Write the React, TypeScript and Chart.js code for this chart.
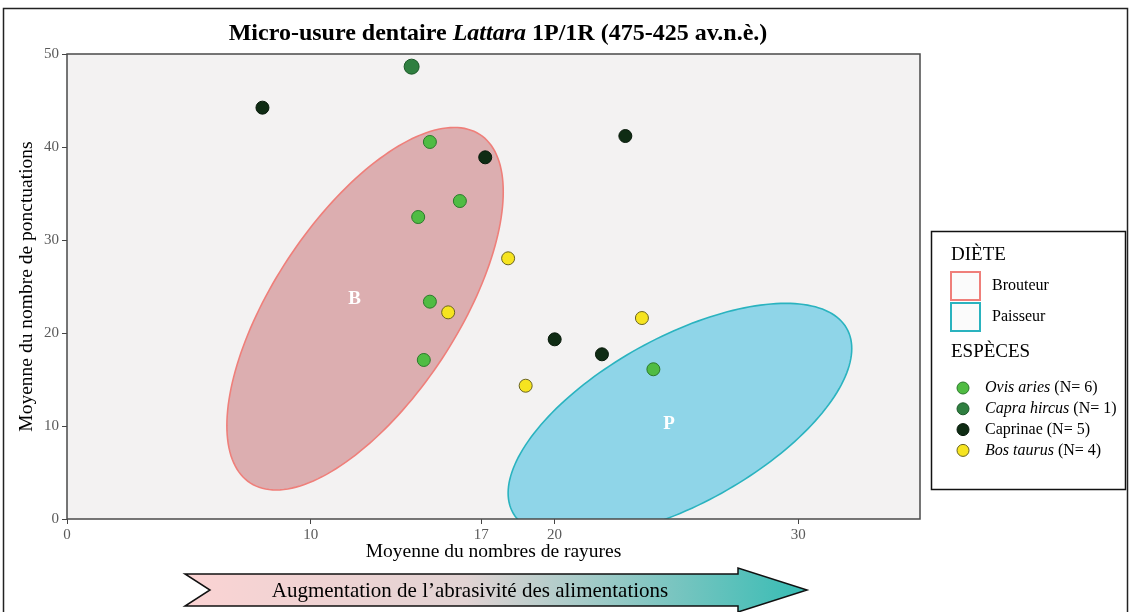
import React, { useEffect, useRef } from "react";
import { Chart, registerables } from "chart.js";

Chart.register(...registerables);

const FONT = "'Liberation Serif', 'Times New Roman', Times, serif";

// ---- data ----
const xTickValues = [0, 10, 17, 20, 30];
const yTickValues = [0, 10, 20, 30, 40, 50];

const ovisX = [14.89, 16.12, 14.41, 14.89, 14.64, 24.06];
const ovisY = [40.54, 34.19, 32.47, 23.37, 17.1, 16.1];
const capraX = [14.14];
const capraY = [48.64];
const caprinaeX = [8.02, 17.16, 22.91, 20.01, 21.95];
const caprinaeY = [44.23, 38.89, 41.18, 19.32, 17.71];
const bosX = [18.1, 15.64, 23.59, 18.82];
const bosY = [28.03, 22.22, 21.61, 14.33];

const speciesNames = ["Ovis aries", "Capra hircus", "Caprinae", "Bos taurus"];
const speciesItalic = [true, true, false, true];
const speciesN = [6, 1, 5, 4];

const dietLabels = ["B", "P"];
const dietNames = ["Brouteur", "Paisseur"];
const ellipseCX = [12.23, 25.15];
const ellipseCY = [22.61, 10.56];
const ellipseRX = [5.67, 7.05];
const ellipseRY = [19.49, 12.63];
const ellipseRho = [0.645, 0.615];
const dietLabelX = [11.8, 24.7];
const dietLabelY = [23.6, 10.2];

const titleParts = [
  { t: "Micro-usure dentaire ", italic: false },
  { t: "Lattara", italic: true },
  { t: " 1P/1R (475-425 av.n.è.)", italic: false },
];
const xTitle = "Moyenne du nombres de rayures";
const yTitle = "Moyenne du nombre de ponctuations";
const arrowText = "Augmentation de l\u2019abrasivité des alimentations";

// ---- styles ----
const speciesFill = ["#50bc43", "#2f7f40", "#0f2c14", "#f6e420"];
const speciesBorder = ["#2b7a2b", "#1d5a2a", "#081a0b", "#6a6420"];
const speciesRadius = [6.5, 7.5, 6.5, 6.5];
const dietFill = ["#dcaeb0", "#8fd5e8"];
const dietStroke = ["#ef7f7a", "#2ab3bf"];

type Seg = { t: string; italic?: boolean };

function drawSegs(
  ctx: CanvasRenderingContext2D,
  segs: Seg[],
  x: number,
  y: number,
  size: number,
  bold: boolean,
  align: "left" | "center",
  color = "#000"
) {
  const fontOf = (s: Seg) =>
    `${s.italic ? "italic " : ""}${bold ? "bold " : ""}${size}px ${FONT}`;
  let total = 0;
  for (const s of segs) {
    ctx.font = fontOf(s);
    total += ctx.measureText(s.t).width;
  }
  let cx = align === "center" ? x - total / 2 : x;
  ctx.fillStyle = color;
  ctx.textBaseline = "middle";
  ctx.textAlign = "left";
  for (const s of segs) {
    ctx.font = fontOf(s);
    ctx.fillText(s.t, cx, y);
    cx += ctx.measureText(s.t).width;
  }
}

const decorPlugin = {
  id: "decor",
  beforeDraw(chart: any) {
    const { ctx, chartArea: a } = chart;
    ctx.save();
    ctx.fillStyle = "#ffffff";
    ctx.fillRect(0, 0, chart.width, chart.height);
    ctx.fillStyle = "#f3f2f2";
    ctx.fillRect(a.left, a.top, a.right - a.left, a.bottom - a.top);
    ctx.restore();
  },
  beforeDatasetsDraw(chart: any) {
    const { ctx, chartArea: a } = chart;
    const xs = chart.scales.x;
    const ys = chart.scales.y;
    ctx.save();
    ctx.beginPath();
    ctx.rect(a.left, a.top, a.right - a.left, a.bottom - a.top);
    ctx.clip();
    for (let i = 0; i < dietLabels.length; i++) {
      const s = Math.sqrt(1 - ellipseRho[i] * ellipseRho[i]);
      ctx.beginPath();
      const N = 180;
      for (let k = 0; k <= N; k++) {
        const t = (2 * Math.PI * k) / N;
        const dx = ellipseRX[i] * Math.cos(t);
        const dy = ellipseRY[i] * (ellipseRho[i] * Math.cos(t) + s * Math.sin(t));
        const px = xs.getPixelForValue(ellipseCX[i] + dx);
        const py = ys.getPixelForValue(ellipseCY[i] + dy);
        if (k === 0) ctx.moveTo(px, py);
        else ctx.lineTo(px, py);
      }
      ctx.closePath();
      ctx.fillStyle = dietFill[i];
      ctx.fill();
      ctx.strokeStyle = dietStroke[i];
      ctx.lineWidth = 1.6;
      ctx.stroke();
    }
    for (let i = 0; i < dietLabels.length; i++) {
      ctx.font = `bold 19px ${FONT}`;
      ctx.fillStyle = "#ffffff";
      ctx.textAlign = "center";
      ctx.textBaseline = "middle";
      ctx.fillText(
        dietLabels[i],
        xs.getPixelForValue(dietLabelX[i]),
        ys.getPixelForValue(dietLabelY[i])
      );
    }
    ctx.restore();
  },
  afterDraw(chart: any) {
    const { ctx, chartArea: a } = chart;
    ctx.save();
    // panel border
    ctx.strokeStyle = "#4a4a4a";
    ctx.lineWidth = 1.5;
    ctx.strokeRect(a.left, a.top, a.right - a.left, a.bottom - a.top);

    // title
    drawSegs(ctx, titleParts, 498, 34, 24, true, "center");

    // x axis title
    drawSegs(ctx, [{ t: xTitle }], (a.left + a.right) / 2, 552, 19.5, false, "center");

    // y axis title
    ctx.save();
    ctx.translate(27, (a.top + a.bottom) / 2);
    ctx.rotate(-Math.PI / 2);
    drawSegs(ctx, [{ t: yTitle }], 0, 0, 19.5, false, "center");
    ctx.restore();

    // legend
    const lx = 931.5;
    const ly = 231.5;
    ctx.strokeStyle = "#111";
    ctx.lineWidth = 1.5;
    ctx.strokeRect(lx, ly, 194, 258);
    drawSegs(ctx, [{ t: "DIÈTE" }], 951, 255, 19, false, "left");
    for (let i = 0; i < dietNames.length; i++) {
      const y0 = 272 + i * 31;
      ctx.fillStyle = "#fbfbfb";
      ctx.fillRect(951, y0, 29, 28);
      ctx.strokeStyle = dietStroke[i];
      ctx.lineWidth = 2;
      ctx.strokeRect(951, y0, 29, 28);
      drawSegs(ctx, [{ t: dietNames[i] }], 992, y0 + 14, 16, false, "left");
    }
    drawSegs(ctx, [{ t: "ESPÈCES" }], 951, 352, 19, false, "left");
    for (let i = 0; i < speciesNames.length; i++) {
      const y = 388 + i * 20.8;
      ctx.beginPath();
      ctx.arc(963, y, 6, 0, Math.PI * 2);
      ctx.fillStyle = speciesFill[i];
      ctx.fill();
      ctx.strokeStyle = speciesBorder[i];
      ctx.lineWidth = 1;
      ctx.stroke();
      drawSegs(
        ctx,
        [
          { t: speciesNames[i], italic: speciesItalic[i] },
          { t: ` (N= ${speciesN[i]})` },
        ],
        985,
        y,
        16,
        false,
        "left"
      );
    }

    // arrow
    const grad = ctx.createLinearGradient(185, 0, 807, 0);
    grad.addColorStop(0, "#fbd3d3");
    grad.addColorStop(0.45, "#e2d3d3");
    grad.addColorStop(1, "#36bcb4");
    ctx.beginPath();
    ctx.moveTo(185, 574);
    ctx.lineTo(738, 574);
    ctx.lineTo(738, 568);
    ctx.lineTo(807, 590);
    ctx.lineTo(738, 612);
    ctx.lineTo(738, 606);
    ctx.lineTo(185, 606);
    ctx.lineTo(210, 590);
    ctx.closePath();
    ctx.fillStyle = grad;
    ctx.fill();
    ctx.strokeStyle = "#111";
    ctx.lineWidth = 1.5;
    ctx.stroke();
    drawSegs(ctx, [{ t: arrowText }], 470, 591, 21, false, "center");

    // outer frame
    ctx.strokeStyle = "#222";
    ctx.lineWidth = 1.5;
    ctx.strokeRect(3.5, 8.5, 1124, 700);
    ctx.restore();
  },
};

export default function App() {
  const ref = useRef<HTMLCanvasElement | null>(null);

  useEffect(() => {
    const canvas = ref.current;
    if (!canvas) return;
    const zip = (xs: number[], ys: number[]) => xs.map((x, i) => ({ x, y: ys[i] }));
    const seriesX = [ovisX, capraX, caprinaeX, bosX];
    const seriesY = [ovisY, capraY, caprinaeY, bosY];
    const chart = new Chart(canvas, {
      type: "scatter",
      data: {
        datasets: speciesNames.map((name, i) => ({
          label: name,
          data: zip(seriesX[i], seriesY[i]),
          backgroundColor: speciesFill[i],
          borderColor: speciesBorder[i],
          borderWidth: 1,
          pointRadius: speciesRadius[i],
          pointHoverRadius: speciesRadius[i],
        })),
      },
      options: {
        responsive: false,
        animation: false,
        events: [],
        layout: { padding: { left: 0, right: 1129 - 920, top: 54, bottom: 58 } },
        scales: {
          x: {
            type: "linear",
            min: 0,
            max: 35,
            afterBuildTicks: (s: any) => {
              s.ticks = xTickValues.map((v) => ({ value: v }));
            },
            afterFit: (s: any) => {
              s.height = 35;
            },
            grid: {
              drawOnChartArea: false,
              drawTicks: true,
              tickLength: 5,
              color: "#444",
            },
            border: { display: false },
            ticks: {
              autoSkip: false,
              maxRotation: 0,
              padding: 2,
              color: "#5a5a5a",
              font: { family: FONT, size: 15 },
            },
          },
          y: {
            type: "linear",
            min: 0,
            max: 50,
            afterBuildTicks: (s: any) => {
              s.ticks = yTickValues.map((v) => ({ value: v }));
            },
            afterFit: (s: any) => {
              s.width = 67;
            },
            grid: {
              drawOnChartArea: false,
              drawTicks: true,
              tickLength: 5,
              color: "#444",
            },
            border: { display: false },
            ticks: {
              padding: 3,
              color: "#5a5a5a",
              font: { family: FONT, size: 15 },
            },
          },
        },
        plugins: {
          legend: { display: false },
          tooltip: { enabled: false },
          title: { display: false },
        },
      },
      plugins: [decorPlugin],
    } as any);
    return () => chart.destroy();
  }, []);

  return (
    <div style={{ position: "fixed", left: 0, top: 0, width: 1129, height: 612, background: "#fff" }}>
      <canvas ref={ref} width={1129} height={612} style={{ display: "block", width: 1129, height: 612 }} />
    </div>
  );
}
